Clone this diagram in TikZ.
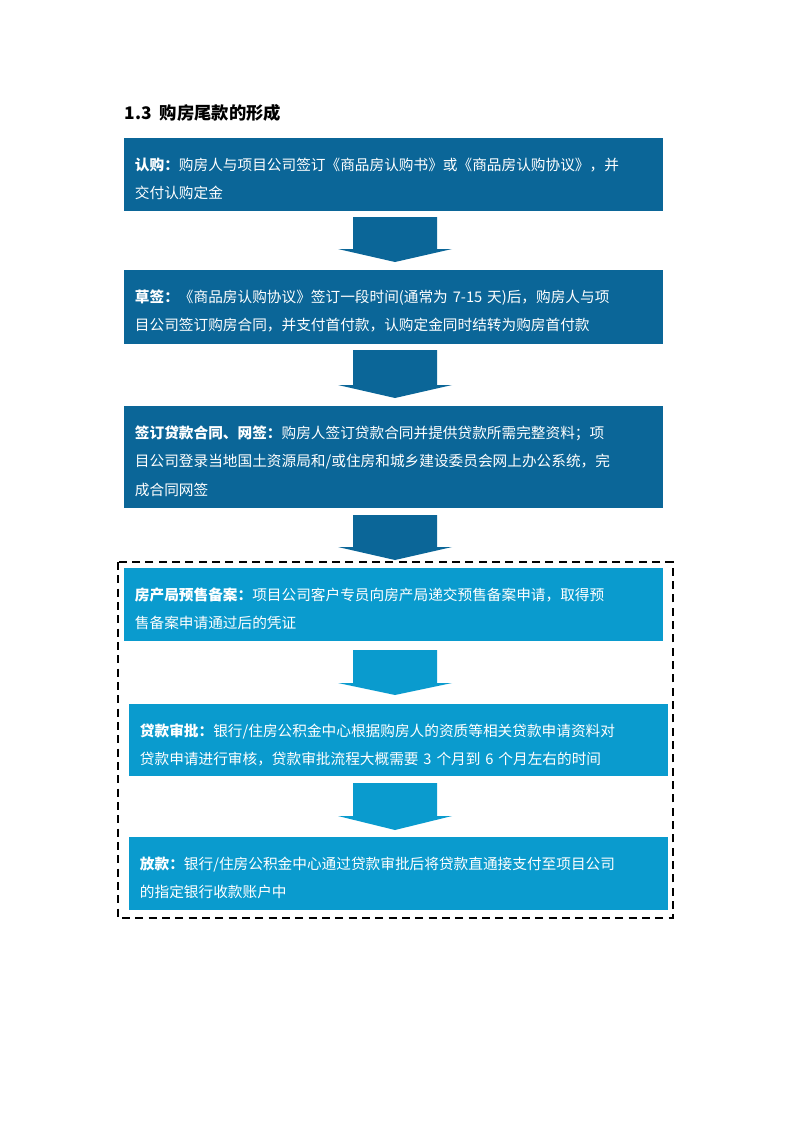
\documentclass[tikz,border=0pt]{standalone}
\usepackage{fontspec}
\setmainfont{Noto Sans CJK SC}
\usetikzlibrary{calc}
\definecolor{darkblue}{HTML}{0B6698}
\definecolor{lightblue}{HTML}{0A9BCE}
\tikzset{
  box/.style={anchor=north west, text=white, text width=400pt, inner xsep=8pt,
    inner ysep=0pt, align=left, font=\fontsize{11}{21.5}\selectfont},
}
% Flecha gruesa entre dos cajas
\newcommand{\flecha}[3]{%
  \fill[#3] ($(#1.south)+(-42,-6)$) -- ($(#1.south)+(42,-6)$)
    |- ($(#2.north)+(57,-21)$) -- ($(#2.north)+(0,-8)$)
    -- ($(#2.north)+(-57,-21)$) -| cycle;}
\begin{document}
\begin{tikzpicture}[x=0.75pt, y=-0.75pt]
      \useasboundingbox (0,0) rectangle (800,1132);

      % Titulo
      \node[anchor=west, font=\fontsize{13}{15}\selectfont\bfseries] (titulo) at (120,113) {1.3\ \ 购房尾款的形成};

      % Cajas superiores
      \fill[darkblue] (124,138) rectangle (663,211);
      \node[box] (b1) at (124,138) {\rule{0pt}{24pt}\textbf{认购：}购房人与项目公司签订《商品房认购书》或《商品房认购协议》，并\\交付认购定金};
      \path (124,211) coordinate (b1s) (663,211) coordinate;

      \fill[darkblue] (124,270) rectangle (663,344);
      \node[box] (b2) at (124,270) {\rule{0pt}{24pt}\textbf{草签：}《商品房认购协议》签订一段时间(通常为 7-15 天)后，购房人与项\\目公司签订购房合同，并支付首付款，认购定金同时结转为购房首付款};

      \fill[darkblue] (124,406) rectangle (663,508);
      \node[box] (b3) at (124,406) {\rule{0pt}{24pt}\textbf{签订贷款合同、网签：}购房人签订贷款合同并提供贷款所需完整资料；项\\目公司登录当地国土资源局和/或住房和城乡建设委员会网上办公系统，完\\成合同网签};

      % Recuadro discontinuo
      \draw[dashed, line width=1.2pt, dash pattern=on 6pt off 4pt] (118,562) rectangle (673,918);

      % Cajas inferiores
      \fill[lightblue] (124,568) rectangle (663,641);
      \node[box] (b4) at (124,568) {\rule{0pt}{24pt}\textbf{房产局预售备案：}项目公司客户专员向房产局递交预售备案申请，取得预\\售备案申请通过后的凭证};

      \fill[lightblue] (129,704) rectangle (668,776);
      \node[box] (b5) at (129,704) {\rule{0pt}{24pt}\textbf{贷款审批：}银行/住房公积金中心根据购房人的资质等相关贷款申请资料对\\贷款申请进行审核，贷款审批流程大概需要 3 个月到 6 个月左右的时间};

      \fill[lightblue] (129,837) rectangle (668,910);
      \node[box] (b6) at (129,837) {\rule{0pt}{24pt}\textbf{放款：}银行/住房公积金中心通过贷款审批后将贷款直通接支付至项目公司\\的指定银行收款账户中};

      % Anclas de las cajas
      \coordinate (c1) at (395,211); \coordinate (c2) at (395,270);
      \coordinate (c3) at (395,344); \coordinate (c4) at (395,406);
      \coordinate (c5) at (395,508); \coordinate (c6) at (395,568);
      \coordinate (c7) at (395,641); \coordinate (c8) at (395,704);
      \coordinate (c9) at (395,776); \coordinate (c10) at (395,837);

      % Flechas
      \fill[darkblue] ($(c1)+(-42,6)$) -- ($(c1)+(42,6)$) -- ($(c2)+(42,-21)$) -- ($(c2)+(57,-21)$) -- ($(c2)+(0,-8)$) -- ($(c2)+(-57,-21)$) -- ($(c2)+(-42,-21)$) -- cycle;
      \fill[darkblue] ($(c3)+(-42,6)$) -- ($(c3)+(42,6)$) -- ($(c4)+(42,-21)$) -- ($(c4)+(57,-21)$) -- ($(c4)+(0,-8)$) -- ($(c4)+(-57,-21)$) -- ($(c4)+(-42,-21)$) -- cycle;
      \fill[darkblue] ($(c5)+(-42,7)$) -- ($(c5)+(42,7)$) -- ($(c6)+(42,-21)$) -- ($(c6)+(57,-21)$) -- ($(c6)+(0,-8)$) -- ($(c6)+(-57,-21)$) -- ($(c6)+(-42,-21)$) -- cycle;
      \fill[lightblue] ($(c7)+(-42,9)$) -- ($(c7)+(42,9)$) -- ($(c8)+(42,-21)$) -- ($(c8)+(57,-21)$) -- ($(c8)+(0,-9)$) -- ($(c8)+(-57,-21)$) -- ($(c8)+(-42,-21)$) -- cycle;
      \fill[lightblue] ($(c9)+(-42,7)$) -- ($(c9)+(42,7)$) -- ($(c10)+(42,-21)$) -- ($(c10)+(57,-21)$) -- ($(c10)+(0,-7)$) -- ($(c10)+(-57,-21)$) -- ($(c10)+(-42,-21)$) -- cycle;
    \end{tikzpicture}
\end{document}
